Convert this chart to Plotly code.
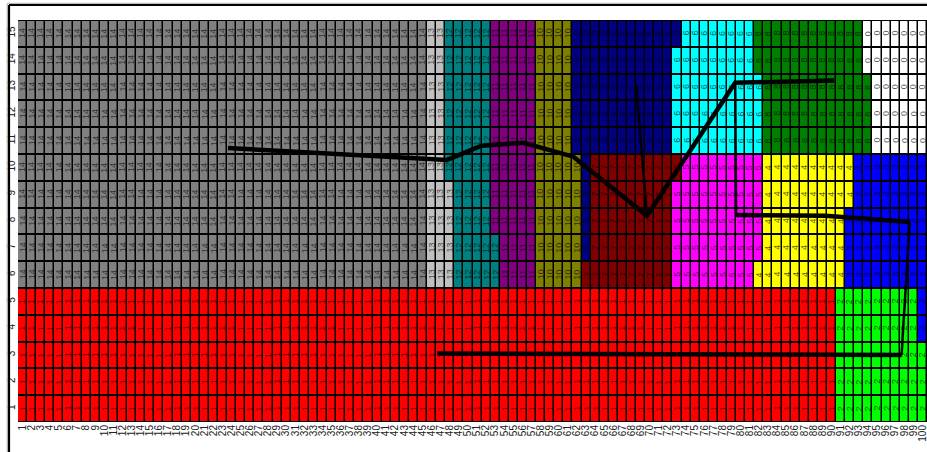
import plotly.graph_objects as go

# ---- data -------------------------------------------------------------
columns = list(range(1, 101))
row_labels = list(range(1, 16))

# run-length encoded rows: (value, count), left to right
row_15 = [(14, 45), (13, 2), (12, 5), (11, 5), (10, 4), (9, 12), (6, 8), (8, 12), (0, 7)]
row_14 = [(14, 45), (13, 2), (12, 5), (11, 5), (10, 4), (9, 11), (6, 9), (8, 12), (0, 7)]
row_13 = [(14, 45), (13, 2), (12, 5), (11, 5), (10, 4), (9, 11), (6, 10), (8, 12), (0, 6)]
row_12 = [(14, 45), (13, 2), (12, 5), (11, 5), (10, 4), (9, 11), (6, 10), (8, 12), (0, 6)]
row_11 = [(14, 45), (13, 2), (12, 5), (11, 5), (10, 4), (9, 11), (6, 10), (8, 12), (0, 6)]
row_10 = [(14, 45), (13, 2), (12, 5), (11, 5), (10, 5), (9, 1), (7, 10), (5, 9), (4, 10), (3, 8)]
row_9 = [(14, 45), (13, 3), (12, 4), (11, 5), (10, 5), (9, 1), (7, 9), (5, 10), (4, 10), (3, 8)]
row_8 = [(14, 45), (13, 3), (12, 4), (11, 5), (10, 5), (9, 1), (7, 9), (5, 10), (4, 9), (3, 9)]
row_7 = [(14, 45), (13, 3), (12, 5), (11, 4), (10, 5), (9, 1), (7, 9), (5, 10), (4, 9), (3, 9)]
row_6 = [(14, 45), (13, 3), (12, 5), (11, 4), (10, 5), (7, 10), (5, 9), (4, 10), (3, 9)]
row_5 = [(1, 90), (2, 9), (3, 1)]
row_4 = [(1, 90), (2, 9), (3, 1)]
row_3 = [(1, 90), (2, 10)]
row_2 = [(1, 90), (2, 10)]
row_1 = [(1, 90), (2, 10)]

# overlay line (data coordinates)
thick_x = [23.6, 47.7, 51.5, 56.1, 61.6, 69.7, 79.4, 90.3, None, 79.5, 89.3, 98.6, None, 97.7, 46.6]
thick_y = [10.72, 10.28, 10.81, 10.92, 10.40, 8.20, 13.16, 13.24, None, 8.22, 8.20, 7.96, None, 3.00, 3.06]
thin_x = [68.5, 69.7, None, 79.4, 79.5, None, 98.6, 97.7]
thin_y = [13.09, 8.20, None, 13.16, 8.22, None, 7.96, 3.00]

# value -> colour (0..14)
palette = ["#FFFFFF", "#FF0000", "#00FF00", "#0000FF", "#FFFF00", "#FF00FF", "#00FFFF",
           "#800000", "#008000", "#000080", "#808000", "#800080", "#008080", "#C0C0C0", "#808080"]

# ---- build -------------------------------------------------------------
rows_rle = [row_1, row_2, row_3, row_4, row_5, row_6, row_7, row_8, row_9, row_10,
            row_11, row_12, row_13, row_14, row_15]
z = []
for rle in rows_rle:
    r = []
    for v, n in rle:
        r.extend([v] * n)
    z.append(r)

n = len(palette)
colorscale = []
for i, c in enumerate(palette):
    colorscale.append([i / n, c])
    colorscale.append([(i + 1) / n, c])

fig = go.Figure()
fig.add_trace(go.Heatmap(z=z, x=columns, y=row_labels, colorscale=colorscale,
                         zmin=-0.5, zmax=n - 0.5, showscale=False,
                         xgap=1.5, ygap=2, hoverinfo="skip"))
fig.add_trace(go.Scatter(x=thick_x, y=thick_y, mode="lines", connectgaps=False,
                         line=dict(color="black", width=4.5), hoverinfo="skip", showlegend=False))
fig.add_trace(go.Scatter(x=thin_x, y=thin_y, mode="lines", connectgaps=False,
                         line=dict(color="black", width=2.5), hoverinfo="skip", showlegend=False))

annotations = []
for ri, yv in enumerate(row_labels):
    for ci, xv in enumerate(columns):
        annotations.append(dict(x=xv, y=yv, text=str(z[ri][ci]), showarrow=False,
                                textangle=-90, xref="x", yref="y", borderpad=0,
                                font=dict(family="Liberation Sans", size=9,
                                          color="rgba(0,0,0,0.66)")))

L, T, W, H = 18, 20, 909, 402
def px_x(p):
    return (p - L) / W
def px_y(p):
    return 1 + (T - p) / H

shapes = [
    dict(type="line", xref="paper", yref="paper", x0=px_x(7.3), x1=px_x(7.3),
         y0=px_y(3.3), y1=px_y(470), line=dict(color="#BBBBBB", width=1.2)),
    dict(type="line", xref="paper", yref="paper", x0=px_x(7.3), x1=px_x(940),
         y0=px_y(3.3), y1=px_y(3.3), line=dict(color="#BBBBBB", width=1.2)),
    dict(type="line", xref="paper", yref="paper", x0=px_x(9), x1=px_x(9),
         y0=px_y(5), y1=px_y(470), line=dict(color="black", width=2.2)),
    dict(type="line", xref="paper", yref="paper", x0=px_x(9), x1=px_x(940),
         y0=px_y(5), y1=px_y(5), line=dict(color="black", width=2.2)),
]

fig.update_layout(
    width=927, height=452,
    margin=dict(l=L, r=927 - L - W, t=T, b=452 - T - H, pad=0, autoexpand=False),
    paper_bgcolor="white", plot_bgcolor="black",
    showlegend=False,
    annotations=annotations,
    shapes=shapes,
    font=dict(family="Liberation Sans", color="#222222"),
    xaxis=dict(range=[0.5, 100.5], tickvals=columns, ticktext=[str(c) for c in columns],
               tickangle=-90, tickfont=dict(size=10), showgrid=False, zeroline=False,
               ticks="", showline=False, fixedrange=True, automargin=False,
               ticklabeloverflow="allow"),
    yaxis=dict(range=[0.5, 15.5], tickvals=row_labels, ticktext=[str(r) for r in row_labels],
               tickangle=-90, tickfont=dict(size=10), showgrid=False, zeroline=False,
               ticks="", showline=False, fixedrange=True, automargin=False,
               ticklabeloverflow="allow"),
)

fig.write_html("out.html", config={"displayModeBar": False},
               post_script="document.body.style.margin='0px';document.body.style.overflow='hidden';")
